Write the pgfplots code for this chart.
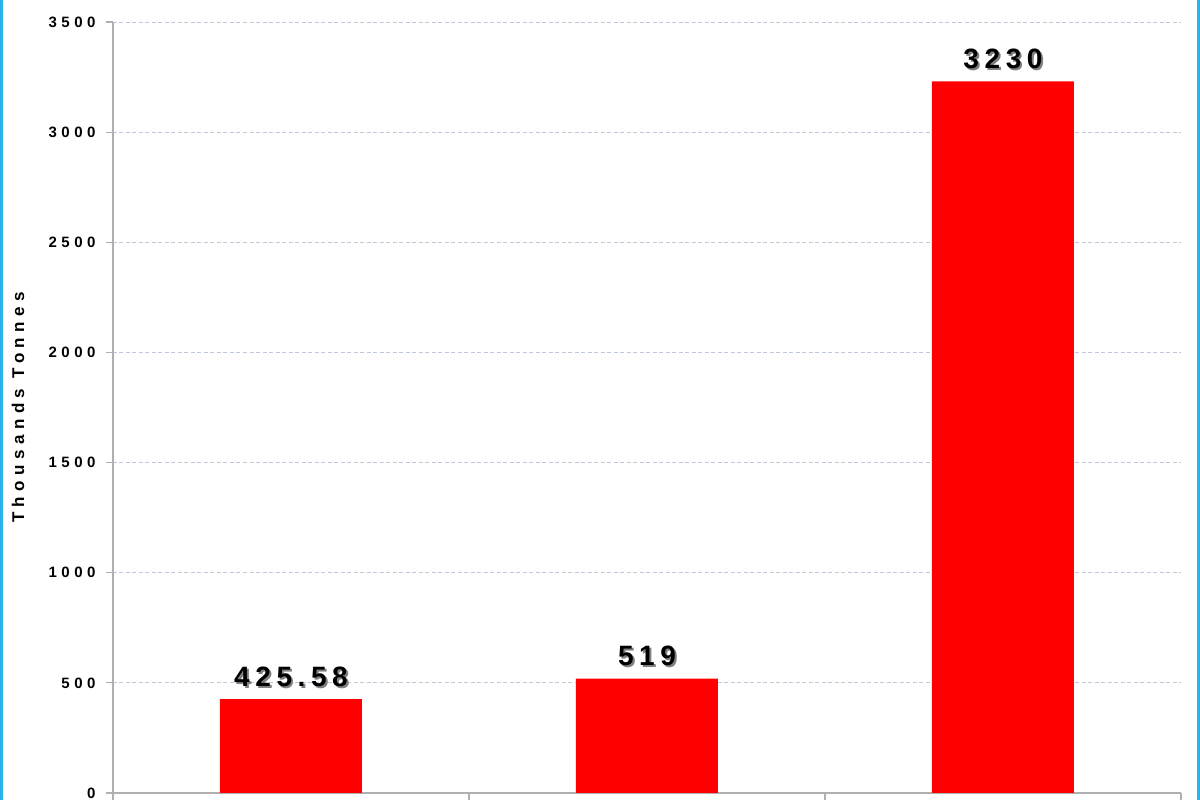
\documentclass[border=0pt]{standalone}
\usepackage{fontspec}
\setmainfont{Liberation Sans}
\usepackage{pgfplots}
\pgfplotsset{compat=1.18}
\definecolor{gridc}{RGB}{190,200,216}
\definecolor{axc}{RGB}{175,175,175}
\definecolor{framec}{RGB}{40,180,235}
% label with a small drop shadow
\newcommand{\shad}[1]{\makebox[0pt][l]{\hspace{2pt}\raisebox{-2pt}{\textcolor{black!50}{#1}}}#1}

\begin{document}
\begin{tikzpicture}[x=1pt,y=1pt]
\useasboundingbox (0,0) rectangle (1200,800);
\fill[white] (0,0) rectangle (1200,800);
\begin{axis}[
    at={(113pt,7pt)}, anchor=south west,
    scale only axis, width=1068pt, height=771pt,
    xmin=-0.5, xmax=2.5, ymin=0, ymax=3500,
    ytick={0,500,...,3500},
    xtick={-0.5,0.5,1.5,2.5}, xticklabels={},
    axis x line*=bottom, axis y line*=left,
    axis line style={axc, line width=1.2pt, -},
    tick style={axc, line width=1.2pt},
    tick align=outside, major tick length=7pt,
    ymajorgrids, grid style={gridc, dash pattern=on 4pt off 2.5pt, line width=0.9pt},
    /pgf/number format/assume math mode=true,
    /pgf/number format/1000 sep={},
    yticklabel style={font=\bfseries\fontsize{15}{15}\selectfont\addfontfeatures{LetterSpace=30}, xshift=-7pt},
    ylabel={Thousands Tonnes},
    ylabel style={font=\bfseries\fontsize{17}{17}\selectfont\addfontfeatures{LetterSpace=32},
        at={(axis description cs:0,0.5)}, anchor=center, yshift=95pt},
    clip=false,
]
\addplot[ybar, bar width=142pt, fill=red, draw=none,
    point meta=explicit symbolic,
    nodes near coords={\shad{\pgfplotspointmeta}},
    every node near coord/.append style={font=\bfseries\fontsize{28}{28}\selectfont\addfontfeatures{LetterSpace=20}, anchor=south, yshift=7pt}]
  table[meta=label] {
    x y label
    0 425.58 425.58
    1 519 519
    2 3230 3230
  };
\end{axis}
\draw[framec, line width=3pt] (1.5,0) -- (1.5,800);
\draw[framec, line width=2.5pt] (1198.5,0) -- (1198.5,800);
\end{tikzpicture}
\end{document}
